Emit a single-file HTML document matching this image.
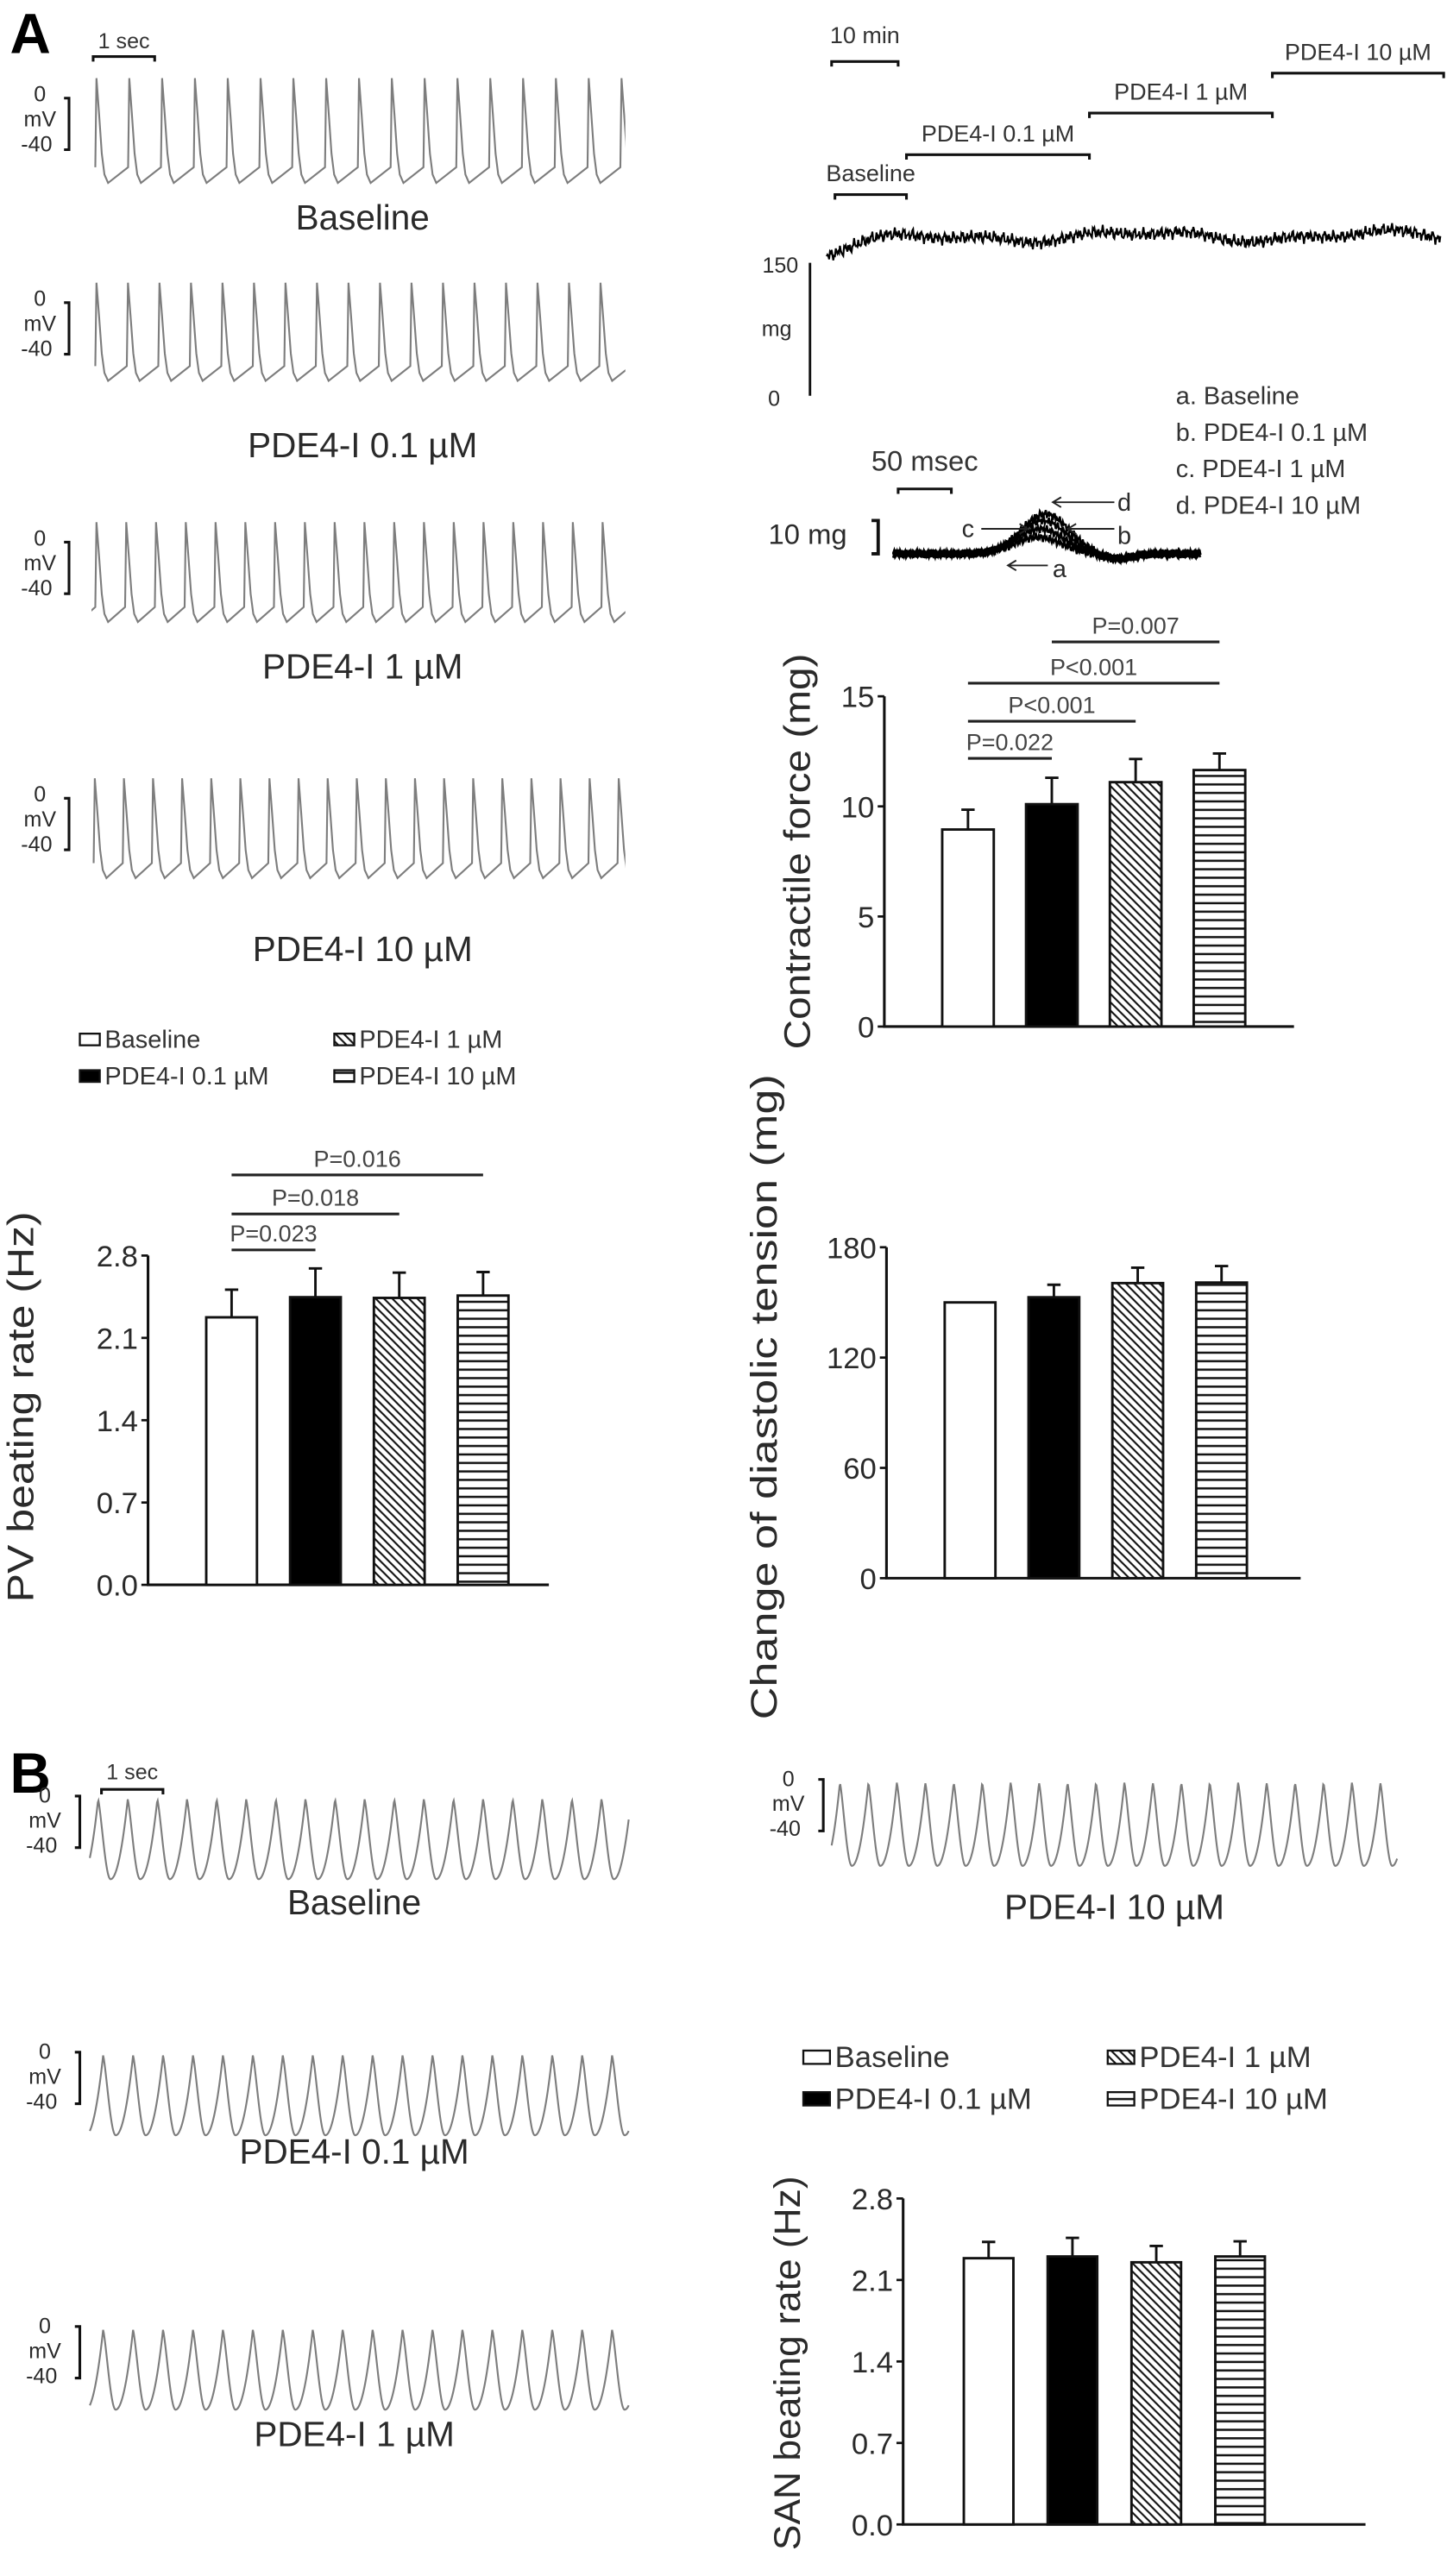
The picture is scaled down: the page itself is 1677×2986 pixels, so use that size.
<!DOCTYPE html>
<html><head><meta charset="utf-8">
<style>
html,body{margin:0;padding:0;background:#fff;}
svg{display:block;}
text{font-family:"Liberation Sans",Arial,sans-serif;}
</style></head>
<body>
<svg id="fig" xmlns="http://www.w3.org/2000/svg" width="1677" height="2986" viewBox="0 0 870 1549" preserveAspectRatio="none">
<defs>
 <pattern id="diag" patternUnits="userSpaceOnUse" width="5" height="5">
  <rect width="5" height="5" fill="#fff"/>
  <path d="M-1,-1 L6,6 M-1,4 L1,6 M4,-1 L6,1" stroke="#111" stroke-width="1.1"/>
 </pattern>
 <pattern id="horiz" patternUnits="userSpaceOnUse" width="6" height="5.1">
  <rect width="6" height="5.1" fill="#fff"/>
  <path d="M0,2.5 L6,2.5" stroke="#111" stroke-width="1.3"/>
 </pattern>
</defs>
<g id="root"></g>
</svg>
<script>
// ---------- data ----------
const groups = ["Baseline", "PDE4-I 0.1 \u00b5M", "PDE4-I 1 \u00b5M", "PDE4-I 10 \u00b5M"];
const forceMeans = [8.95, 10.1, 11.1, 11.65];
const forceErr = [0.9, 1.2, 1.05, 0.75];
const forceTicks = [0, 5, 10, 15];
const forcePLabels = ["P=0.022", "P<0.001", "P<0.001", "P=0.007"];
const forcePairs = [[0,1],[0,2],[0,3],[1,3]];
const pvMeans = [2.275, 2.446, 2.44, 2.46];
const pvErr = [0.235, 0.245, 0.215, 0.20];
const pvTicks = [0, 0.7, 1.4, 2.1, 2.8];
const pvPLabels = ["P=0.023", "P=0.018", "P=0.016"];
const pvPairs = [[0,1],[0,2],[0,3]];
const diaMeans = [150, 152.8, 160.5, 160.8];
const diaErr = [0, 6.8, 8.4, 9];
const diaTicks = [0, 60, 120, 180];
const sanMeans = [2.287, 2.302, 2.252, 2.302];
const sanErr = [0.14, 0.16, 0.14, 0.13];
const sanTicks = [0, 0.7, 1.4, 2.1, 2.8];

const NS = "http://www.w3.org/2000/svg";
const root = document.getElementById("root");
function mk(tag, attrs, parent){
  const e = document.createElementNS(NS, tag);
  for (const k in attrs) e.setAttribute(k, attrs[k]);
  (parent||root).appendChild(e);
  return e;
}
function txt(str, x, y, size, opts, parent){
  const e = mk("text", Object.assign({x:x, y:y, "font-size":size, fill:"#2a2a2a"}, opts||{}), parent);
  e.textContent = str;
  return e;
}
const fills = ["#fff", "#000", "url(#diag)", "url(#horiz)"];

// ---------- bar chart ----------
function barChart(name, cfg, means, errs, ticks, fmt){
  const g = mk("g", {});
  
  
  const yS = v => cfg.y0 - (v / cfg.max) * (cfg.y0 - cfg.yTop);
  const xC = i => cfg.first + i * cfg.step + cfg.w / 2;
  const ax = mk("path", {d:`M${cfg.ax},${cfg.yTop} L${cfg.ax},${cfg.y0} L${cfg.end},${cfg.y0}`, stroke:"#111", "stroke-width":1.6, fill:"none"}, g);
  
  
  ticks.forEach(t => {
    const tk = mk("line", {x1:cfg.ax-4, x2:cfg.ax, y1:yS(t), y2:yS(t), stroke:"#111", "stroke-width":1.4}, g);
    
    
    const tl = txt(fmt(t), cfg.ax-6, yS(t)+6.5, cfg.tickSize||18, {"text-anchor":"end"}, g);
    
    
  });
  means.forEach((m, i) => {
    const x = cfg.first + i * cfg.step;
    const top = yS(m);
    if (errs[i] > 0){
      const e = mk("path", {d:`M${xC(i)},${top} L${xC(i)},${yS(m+errs[i])} M${xC(i)-4},${yS(m+errs[i])} L${xC(i)+4},${yS(m+errs[i])}`, stroke:"#111", "stroke-width":1.5, fill:"none"}, g);
      
      
    }
    const b = mk("rect", {x:x, y:top, width:cfg.w, height:cfg.y0-top, fill:fills[i], stroke:"#111", "stroke-width":1.5}, g);
    
    
  });
  const t = txt(cfg.title, 0, 0, cfg.titleSize||22, {"text-anchor":"middle", textLength:cfg.titleLen, lengthAdjust:"spacingAndGlyphs", transform:`translate(${cfg.tx},${cfg.ty}) rotate(-90)`}, g);
  
  
  return {g, xC, yS};
}
function pAnnot(chart, pairs, labels, ys){
  pairs.forEach((p, k) => {
    const x1 = chart.xC(p[0]), x2 = chart.xC(p[1]);
    const l = mk("line", {x1:x1, x2:x2, y1:ys[k], y2:ys[k], stroke:"#222", "stroke-width":1.6}, chart.g);
    
    
    const t = txt(labels[k], (x1+x2)/2, ys[k]-5, 14, {"text-anchor":"middle", fill:"#444"}, chart.g);
    
    
  });
}
const f1 = v => v.toFixed(1), f0 = v => String(v);

const force = barChart("contractile-force-chart",
  {ax:531.7, y0:617.3, yTop:418.7, max:15, first:566.5, step:50.4, w:31, end:778, title:"Contractile force (mg)", tx:487, ty:512, titleLen:238},
  forceMeans, forceErr, forceTicks, f0);
pAnnot(force, forcePairs, forcePLabels, [456, 433.7, 410.8, 386]);

const pv = barChart("pv-beating-rate-chart",
  {ax:89, y0:953, yTop:755, max:2.8, first:124, step:50.4, w:30.5, end:330, title:"PV beating rate (Hz)", tx:20, ty:846, titleLen:235},
  pvMeans, pvErr, pvTicks, f1);
pAnnot(pv, pvPairs, pvPLabels, [751.6, 730, 706.5]);

barChart("diastolic-tension-chart",
  {ax:533, y0:949, yTop:750, max:180, first:568, step:50.4, w:30.5, end:782, title:"Change of diastolic tension (mg)", tx:467, ty:840, titleLen:388},
  diaMeans, diaErr, diaTicks, f0);

barChart("san-beating-rate-chart",
  {ax:543, y0:1518, yTop:1322, max:2.8, first:579.5, step:50.4, w:29.8, end:821, title:"SAN beating rate (Hz)", tx:481, ty:1421, titleLen:225},
  sanMeans, sanErr, sanTicks, f1);

// ---------- legends ----------
function legend(name, x1, x2, y1, y2, size, sw, sh){
  const g = mk("g", {});
  
  
  const pos = [[x1,y1],[x1,y2],[x2,y1],[x2,y2]];
  groups.forEach((s, i) => {
    const r = mk("rect", {x:pos[i][0], y:pos[i][1]-sh/2-size*0.33, width:sw, height:sh, fill:fills[i], stroke:"#111", "stroke-width":1.2}, g);
    
    
    const t = txt(s, pos[i][0]+sw+3, pos[i][1], size, {fill:"#333"}, g);
    
    
  });
}
legend("legend-a", 48, 201, 630, 652, 15, 12, 7);
legend("legend-b", 483, 666, 1243, 1268, 18, 16, 8);

// ---------- action potential traces ----------
function pvTrace(name, xs, xe, p0, P, top, h){
  const min = top + h;
  const pts = [];
  for (let xp = p0 - P; xp < xe + P; xp += P){
    pts.push([xp-0.7, min-0.15*h],[xp, top],[xp+1.6, top+0.35*h],[xp+3.2, top+0.72*h],[xp+4.8, top+0.92*h],[xp+7, min]);
  }
  const f = pts.filter(p => p[0] >= xs-8 && p[0] <= xe+8);
  const d = "M" + f.map(p => p[0].toFixed(2)+","+p[1].toFixed(2)).join(" L");
  const id = "c" + Math.round(top*10);
  const cp = mk("clipPath", {id:id});
  mk("rect", {x:xs, y:top-5, width:xe-xs, height:h+15}, cp);
  const e = mk("path", {d:d, fill:"none", stroke:"#7d7d7d", "stroke-width":1.1, "clip-path":`url(#${id})`});
  
  
}
function sanTrace(name, xs, xe, p0, P, top, h){
  const pts = [];
  for (let x = xs; x <= xe; x += 0.4){
    let t = ((x - p0) / P) % 1; if (t < 0) t += 1;
    let y;
    if (t < 0.42) y = top + h * Math.pow(Math.sin(Math.PI/2 * t / 0.42), 1.3);
    else y = top + h - h * Math.pow((t - 0.42) / 0.58, 2.0);
    pts.push([x, y]);
  }
  const e = mk("path", {d:"M" + pts.map(p => p[0].toFixed(2)+","+p[1].toFixed(2)).join(" L"), fill:"none", stroke:"#7d7d7d", "stroke-width":1.1});
  
  
}
function mvScale(name, cx, bx, top, o0, o1, oy0, oy1){
  const g = mk("g", {});
  
  
  txt("0", cx, top+o0, 13, {"text-anchor":"middle"}, g);
  txt("mV", cx, top+(o0+o1)/2, 13, {"text-anchor":"middle"}, g);
  txt("-40", cx-2, top+o1, 13, {"text-anchor":"middle"}, g);
  mk("path", {d:`M${bx-3},${top+oy0} L${bx},${top+oy0} L${bx},${top+oy1} L${bx-3},${top+oy1}`, stroke:"#111", "stroke-width":1.6, fill:"none"}, g);
}
function label(name, s, x, y, size){
  const t = txt(s, x, y, size, {"text-anchor":"middle", fill:"#2a2a2a"});
  
  
}
function scaleBar(name, x1, x2, y, lab, ly, size){
  const g = mk("g", {});
  
  
  mk("path", {d:`M${x1},${y+3} L${x1},${y} L${x2},${y} L${x2},${y+3}`, stroke:"#111", "stroke-width":1.6, fill:"none"}, g);
  if (lab) txt(lab, (x1+x2)/2, ly, size, {"text-anchor":"middle", fill:"#333"}, g);
}

// panel A letters / scale
const A = txt("A", 6, 32, 34, {"font-weight":"bold", fill:"#000"});  
scaleBar("time-scale-1sec-a", 56, 93, 34, "1 sec", 29, 13);

const aTraces = [
  {top:47, h:63, p0:58, P:19.73, lab:"Baseline", ly:138},
  {top:170, h:59, p0:58, P:18.94, lab:"PDE4-I 0.1 \u00b5M", ly:275},
  {top:314, h:60, p0:58, P:17.9, lab:"PDE4-I 1 \u00b5M", ly:408},
  {top:468, h:60, p0:57, P:17.5, lab:"PDE4-I 10 \u00b5M", ly:578}
];
aTraces.forEach((t, i) => {
  pvTrace("pv-trace-" + (i+1), 55, 376, t.p0, t.P, t.top, t.h);
  mvScale("voltage-scale-" + (i+1), 24, 41.5, t.top, 14, 44, 12, 43);
  label("trace-label-" + (i+1), t.lab, 218, t.ly, 21);
});

// panel B
const B = txt("B", 6, 1078, 34, {"font-weight":"bold", fill:"#000"});  
scaleBar("time-scale-1sec-b", 61, 98, 1076, "1 sec", 1070, 13);
const bTraces = [
  {xs:54, xe:378, p0:59, P:17.8, top:1076, h:48, lab:"Baseline", lx:213, ly:1151, sx:27, bx:48},
  {xs:54, xe:378, p0:62, P:18, top:1230, h:48, lab:"PDE4-I 0.1 \u00b5M", lx:213, ly:1301, sx:27, bx:48},
  {xs:54, xe:378, p0:62, P:18, top:1395, h:48, lab:"PDE4-I 1 \u00b5M", lx:213, ly:1471, sx:27, bx:48},
  {xs:500, xe:840, p0:505, P:17.1, top:1066, h:50, lab:"PDE4-I 10 \u00b5M", lx:670, ly:1154, sx:474, bx:495}
];
bTraces.forEach((t, i) => {
  sanTrace("san-trace-" + (i+1), t.xs, t.xe, t.p0, t.P, t.top + 6, t.h);
  mvScale("san-voltage-scale-" + (i+1), t.sx, t.bx, t.top, 8, 38, 4, 35);
  label("san-trace-label-" + (i+1), t.lab, t.lx, t.ly, 21);
});

// ---------- force recording (top right) ----------
scaleBar("time-scale-10min", 500, 540, 37, "10 min", 26, 14);
const steps = [
  {x1:502, x2:545, y:117, lab:"Baseline"},
  {x1:545, x2:655, y:93, lab:"PDE4-I 0.1 \u00b5M"},
  {x1:655, x2:765, y:68, lab:"PDE4-I 1 \u00b5M"},
  {x1:765, x2:868, y:44, lab:"PDE4-I 10 \u00b5M"}
];
steps.forEach((s, i) => scaleBar("treatment-period-" + (i+1), s.x1, s.x2, s.y, s.lab, s.y-8, 14));
(function(){
  const pts = [];
  for (let x = 497; x <= 866; x += 0.5){
    const trend = 152 - 10 * (1 - Math.exp(-(x-497)/30)) + 2.5*Math.sin(x/23) + 1.5*Math.sin(x/9.7);
    const n = 2.0*Math.sin(x*2.31) + 1.5*Math.sin(x*5.17+1) + 1.2*Math.sin(x*11.3+2);
    pts.push([x, trend + n]);
  }
  const e = mk("path", {d:"M" + pts.map(p => p[0].toFixed(1)+","+p[1].toFixed(1)).join(" L"), fill:"none", stroke:"#000", "stroke-width":1.1});
  
  
  const g = mk("g", {});
  
  
  mk("line", {x1:487, x2:487, y1:158, y2:238, stroke:"#111", "stroke-width":1.5}, g);
  txt("150", 480, 164, 13, {"text-anchor":"end"}, g);
  txt("mg", 476, 202, 13, {"text-anchor":"end"}, g);
  txt("0", 469, 244, 13, {"text-anchor":"end"}, g);
})();

// twitch overlay
(function(){
  const amps = [10, 15, 20, 24];
  const g = mk("g", {});
  
  
  amps.forEach((a, k) => {
    const pts = [];
    for (let x = 537; x <= 722; x += 0.6){
      const bump = a * Math.exp(-Math.pow((x-624-k*1.5)/20, 2)) - 3*Math.exp(-Math.pow((x-672)/12, 2));
      const n = 1.6*Math.sin(x*3.7+k) + 1.1*Math.sin(x*8.3+2*k);
      pts.push([x, 333 - bump + n]);
    }
    mk("path", {d:"M" + pts.map(p => p[0].toFixed(1)+","+p[1].toFixed(1)).join(" L"), fill:"none", stroke:"#000", "stroke-width":1.3}, g);
  });
  const ar = (x1, x2, y) => {
    const dir = x2 > x1 ? -1 : 1;
    mk("path", {d:`M${x1},${y} L${x2},${y} M${x2+dir*5},${y-3} L${x2},${y} L${x2+dir*5},${y+3}`, stroke:"#222", "stroke-width":1, fill:"none"}, g);
  };
  ar(590, 618, 318); txt("c", 582, 323, 15, {"text-anchor":"middle"}, g);
  ar(670, 633, 302); txt("d", 676, 307, 15, {"text-anchor":"middle"}, g);
  ar(670, 642, 318); txt("b", 676, 327, 15, {"text-anchor":"middle"}, g);
  ar(630, 606, 340); txt("a", 637, 347, 15, {"text-anchor":"middle"}, g);
  scaleBar("time-scale-50msec", 540, 572, 294, "50 msec", 283, 17);
  txt("10 mg", 462, 327, 17, {}, g);
  mk("path", {d:"M524,313 L528,313 L528,333 L524,333", stroke:"#111", "stroke-width":2, fill:"none"}, g);
  const lg = ["a.  Baseline", "b.  PDE4-I 0.1 \u00b5M", "c.  PDE4-I 1 \u00b5M", "d.  PDE4-I 10 \u00b5M"];
  lg.forEach((s, i) => {
    const t = txt(s, 707, 243 + i*22, 15, {fill:"#333"});
    
    
  });
})();
</script>
</body></html>
